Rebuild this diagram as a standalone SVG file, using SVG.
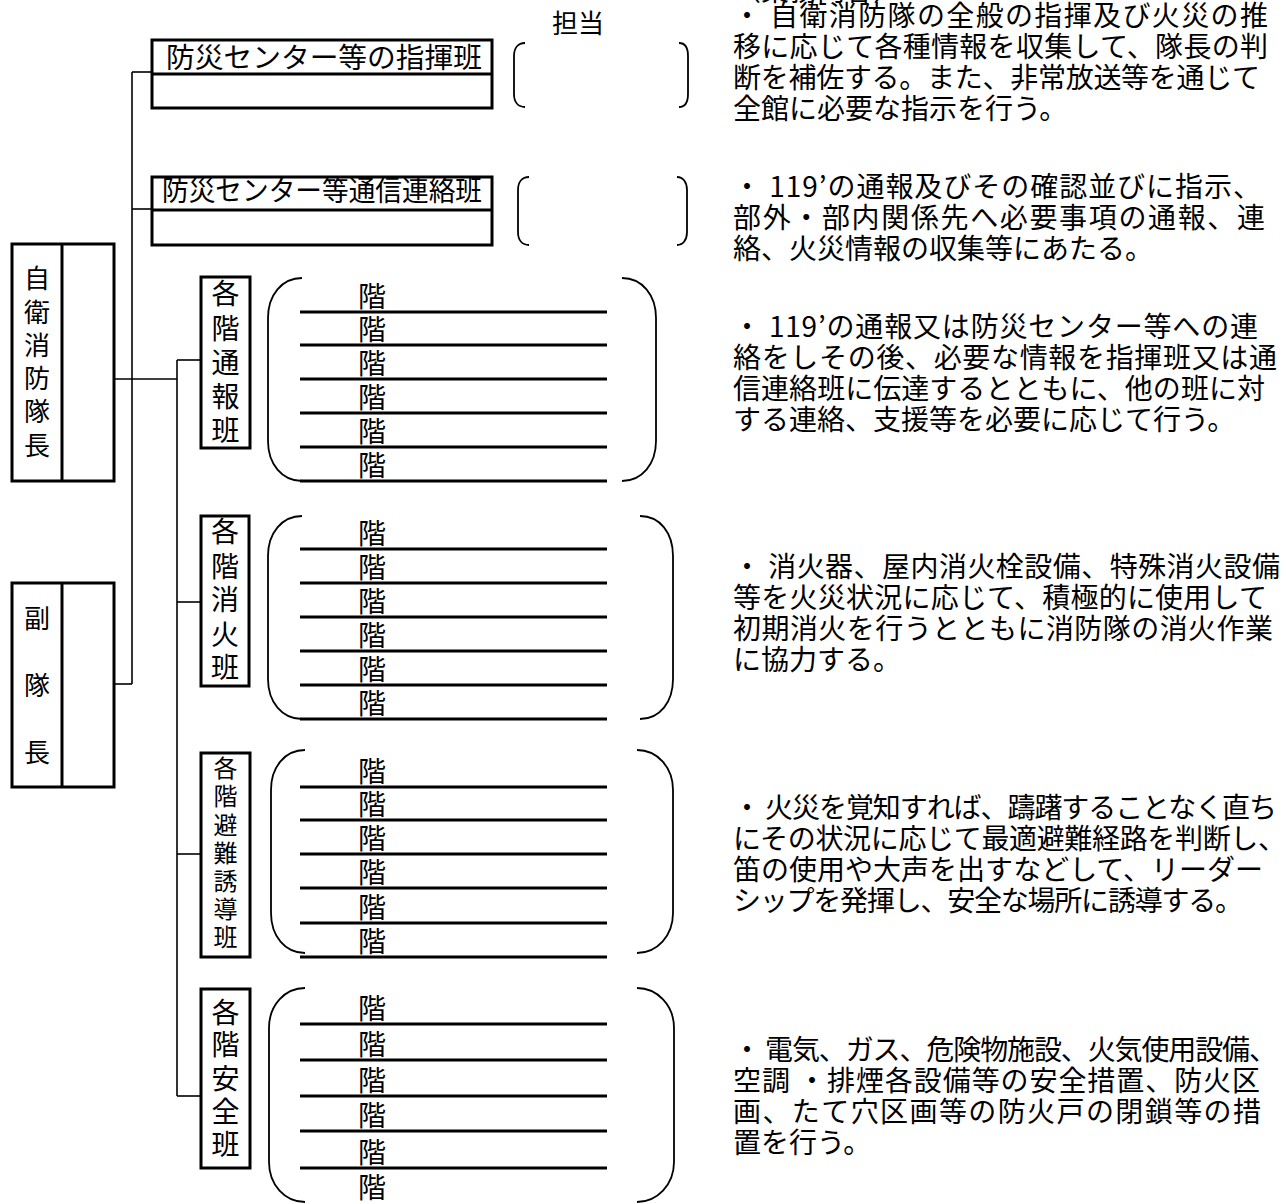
<svg xmlns="http://www.w3.org/2000/svg" width="1288" height="1204" viewBox="0 0 1288 1204">
<style>
.bg{fill:#fff}
.box{fill:#fff;stroke:#000;stroke-width:3}
.div{stroke:#000;stroke-width:3;fill:none}
.conn{stroke:#000;stroke-width:1.6;fill:none}
.br{stroke:#000;stroke-width:1.8;fill:none}
.fl{stroke:#000;stroke-width:3}
.t{font-family:"Noto Sans CJK JP","Noto Sans CJK SC",sans-serif;font-size:28px;fill:#000}
.s26{font-size:26px}
.s24{font-size:24px}
.m{text-anchor:middle}
</style>
<rect class="bg" x="0" y="0" width="1288" height="1204"/>

<g id="connectors">
  <path class="conn" d="M132,72 V684"/>
  <path class="conn" d="M132,72 H152"/>
  <path class="conn" d="M132,209 H152"/>
  <path class="conn" d="M114,684 H132"/>
  <path class="conn" d="M114,379 H177"/>
  <path class="conn" d="M177,360 V1096"/>
  <path class="conn" d="M177,360 H201"/>
  <path class="conn" d="M177,602 H201"/>
  <path class="conn" d="M177,854 H201"/>
  <path class="conn" d="M177,1096 H201"/>
</g>

<g id="tantou-label">
  <text class="t s26" x="552" y="33">担当</text>
</g>

<g id="node-shiki">
  <rect class="box" x="152" y="40" width="340" height="68"/>
  <path class="div" d="M152,74 H492"/>
  <text class="t" x="166" y="68" textLength="316" lengthAdjust="spacingAndGlyphs">防災センター等の指揮班</text>
  <path class="br" d="M525,43 C518,43 514,48 514,56 L514,94 C514,102 518,107 525,107"/>
  <path class="br" d="M679,43 C685,43 688,48 688,56 L688,94 C688,102 685,107 679,107"/>
</g>

<g id="node-tsushin">
  <rect class="box" x="152" y="177" width="340" height="68"/>
  <path class="div" d="M152,210 H492"/>
  <text class="t" x="162" y="201" textLength="320" lengthAdjust="spacingAndGlyphs">防災センター等通信連絡班</text>
  <path class="br" d="M529,177 C522,177 518,182 518,190 L518,232 C518,240 522,245 529,245"/>
  <path class="br" d="M677,177 C683,177 687,182 687,190 L687,232 C687,240 683,245 677,245"/>
</g>

<g id="node-taichou">
  <rect class="box" x="12" y="244" width="102" height="237"/>
  <path class="div" d="M62,244 V481"/>
  <text class="t s26 m"><tspan x="37" y="288">自</tspan><tspan x="37" y="322">衛</tspan><tspan x="37" y="355">消</tspan><tspan x="37" y="388">防</tspan><tspan x="37" y="421">隊</tspan><tspan x="37" y="455">長</tspan></text>
</g>

<g id="node-fukutaichou">
  <rect class="box" x="12" y="583" width="102" height="204"/>
  <path class="div" d="M62,583 V787"/>
  <text class="t s26 m"><tspan x="37" y="628">副</tspan><tspan x="37" y="695">隊</tspan><tspan x="37" y="762">長</tspan></text>
</g>

<g id="node-tsuuhou">
  <rect class="box" x="201" y="277" width="49" height="171"/>
  <text class="t m"><tspan x="225.5" y="304">各</tspan><tspan x="225.5" y="339">階</tspan><tspan x="225.5" y="373">通</tspan><tspan x="225.5" y="407">報</tspan><tspan x="225.5" y="441">班</tspan></text>
  <path class="br" d="M302,278 C282,278 268,295 268,318 L268,441 C268,464 282,481 302,481"/>
  <path class="br" d="M622,278 C642,278 656,295 656,318 L656,441 C656,464 642,481 622,481"/>
  <path class="fl" d="M300,312 H607 M300,345 H607 M300,379 H607 M300,413 H607 M300,447 H607 M300,481 H607"/>
  <text class="t m"><tspan x="372" y="307">階</tspan><tspan x="372" y="340">階</tspan><tspan x="372" y="374">階</tspan><tspan x="372" y="408">階</tspan><tspan x="372" y="442">階</tspan><tspan x="372" y="476">階</tspan></text>
</g>

<g id="node-shouka">
  <rect class="box" x="201" y="516" width="48" height="170"/>
  <text class="t m"><tspan x="225" y="542">各</tspan><tspan x="225" y="577">階</tspan><tspan x="225" y="610">消</tspan><tspan x="225" y="645">火</tspan><tspan x="225" y="678">班</tspan></text>
  <path class="br" d="M302,516 C282,516 268,533 268,556 L268,679 C268,702 282,719 302,719"/>
  <path class="br" d="M640,516 C660,516 673,533 673,556 L673,679 C673,702 660,719 640,719"/>
  <path class="fl" d="M300,549 H607 M300,583 H607 M300,617 H607 M300,651 H607 M300,685 H607 M300,719 H607"/>
  <text class="t m"><tspan x="372" y="544">階</tspan><tspan x="372" y="578">階</tspan><tspan x="372" y="612">階</tspan><tspan x="372" y="646">階</tspan><tspan x="372" y="680">階</tspan><tspan x="372" y="714">階</tspan></text>
</g>

<g id="node-hinan">
  <rect class="box" x="201" y="753" width="49" height="204"/>
  <text class="t s24 m"><tspan x="225.5" y="777">各</tspan><tspan x="225.5" y="805">階</tspan><tspan x="225.5" y="834">避</tspan><tspan x="225.5" y="862">難</tspan><tspan x="225.5" y="890">誘</tspan><tspan x="225.5" y="918">導</tspan><tspan x="225.5" y="946">班</tspan></text>
  <path class="br" d="M305,750 C285,750 271,767 271,790 L271,913 C271,936 285,953 305,953"/>
  <path class="br" d="M637,750 C657,750 673,767 673,790 L673,913 C673,936 657,953 637,953"/>
  <path class="fl" d="M300,787 H607 M300,820 H607 M300,854 H607 M300,888 H607 M300,923 H607 M300,957 H607"/>
  <text class="t m"><tspan x="372" y="782">階</tspan><tspan x="372" y="815">階</tspan><tspan x="372" y="849">階</tspan><tspan x="372" y="883">階</tspan><tspan x="372" y="918">階</tspan><tspan x="372" y="952">階</tspan></text>
</g>

<g id="node-anzen">
  <rect class="box" x="201" y="989" width="49" height="179"/>
  <text class="t m"><tspan x="225.5" y="1023">各</tspan><tspan x="225.5" y="1055">階</tspan><tspan x="225.5" y="1089">安</tspan><tspan x="225.5" y="1122">全</tspan><tspan x="225.5" y="1155">班</tspan></text>
  <path class="br" d="M305,988 C285,988 269,1005 269,1028 L269,1162 C269,1185 285,1202 305,1202"/>
  <path class="br" d="M637,988 C657,988 674,1005 674,1028 L674,1162 C674,1185 657,1202 637,1202"/>
  <path class="fl" d="M300,1024 H607 M300,1060 H607 M300,1096 H607 M300,1131 H607 M300,1168 H607"/>
  <text class="t m"><tspan x="372" y="1019">階</tspan><tspan x="372" y="1055">階</tspan><tspan x="372" y="1091">階</tspan><tspan x="372" y="1126">階</tspan><tspan x="372" y="1163">階</tspan><tspan x="372" y="1198">階</tspan></text>
</g>

<g id="descriptions">
  <text class="t" x="733" y="1">（業務内容）</text>
  <text class="t" x="733" y="26" textLength="535" lengthAdjust="spacing">・ 自衛消防隊の全般の指揮及び火災の推</text>
  <text class="t" x="733" y="57" textLength="535" lengthAdjust="spacing">移に応じて各種情報を収集して、隊長の判</text>
  <text class="t" x="733" y="88" textLength="527" lengthAdjust="spacing">断を補佐する。また、非常放送等を通じて</text>
  <text class="t" x="733" y="119">全館に必要な指示を行う。</text>

  <text class="t" x="733" y="197" textLength="528" lengthAdjust="spacing">・ 119’の通報及びその確認並びに指示、</text>
  <text class="t" x="733" y="228" textLength="532" lengthAdjust="spacing">部外・部内関係先へ必要事項の通報、連</text>
  <text class="t" x="733" y="259">絡、火災情報の収集等にあたる。</text>

  <text class="t" x="733" y="337" textLength="525" lengthAdjust="spacing">・ 119’の通報又は防災センター等への連</text>
  <text class="t" x="733" y="368" textLength="544" lengthAdjust="spacing">絡をしその後、必要な情報を指揮班又は通</text>
  <text class="t" x="733" y="399" textLength="532" lengthAdjust="spacing">信連絡班に伝達するとともに、他の班に対</text>
  <text class="t" x="733" y="430">する連絡、支援等を必要に応じて行う。</text>

  <text class="t" x="733" y="577" textLength="547" lengthAdjust="spacing">・ 消火器、屋内消火栓設備、特殊消火設備</text>
  <text class="t" x="733" y="608" textLength="534" lengthAdjust="spacing">等を火災状況に応じて、積極的に使用して</text>
  <text class="t" x="733" y="639" textLength="540" lengthAdjust="spacing">初期消火を行うとともに消防隊の消火作業</text>
  <text class="t" x="733" y="670">に協力する。</text>

  <text class="t" x="733" y="818" textLength="544" lengthAdjust="spacing">・ 火災を覚知すれば、躊躇することなく直ち</text>
  <text class="t" x="733" y="849" textLength="553" lengthAdjust="spacing">にその状況に応じて最適避難経路を判断し、</text>
  <text class="t" x="733" y="880" textLength="530" lengthAdjust="spacing">笛の使用や大声を出すなどして、リーダー</text>
  <text class="t" x="733" y="911" textLength="510" lengthAdjust="spacing">シップを発揮し、安全な場所に誘導する。</text>

  <text class="t" x="733" y="1060" textLength="544" lengthAdjust="spacing">・ 電気、ガス、危険物施設、火気使用設備、</text>
  <text class="t" x="733" y="1091" textLength="527" lengthAdjust="spacing">空調 ・排煙各設備等の安全措置、防火区</text>
  <text class="t" x="733" y="1122" textLength="528" lengthAdjust="spacing">画、たて穴区画等の防火戸の閉鎖等の措</text>
  <text class="t" x="733" y="1153">置を行う。</text>
</g>
</svg>
